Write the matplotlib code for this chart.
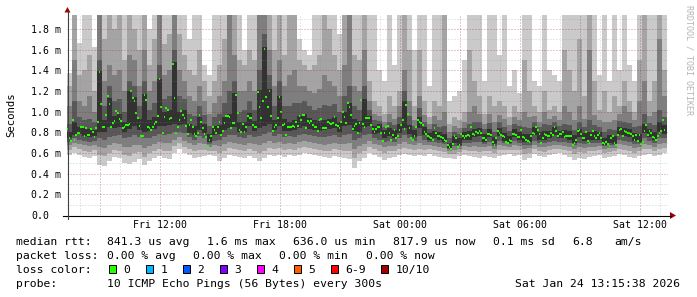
import numpy as np
import matplotlib
matplotlib.use("Agg")
import matplotlib.pyplot as plt
from matplotlib.lines import Line2D
from matplotlib.patches import Polygon, Rectangle

# time axis: hours counted from Fri 00:00
start_hour = 7.35
smoke_step = 0.25        # smoke read every 15 min
median_step = 1 / 12     # median read every 5 min

# median rtt in ms, one value per 5 min
median_ms = [
    .83, .74, .72, .92, .73, .77, .79, .79, .85, .85, .76, .84, .77, .77, .83, .80, .75, .84, .90, 1.38,
    1.07, .85, .85, .97, 1.15, 1.07, .85, .89, .91, 1.01, .99, .93, .91, .84, .85, .87, .87, .88, 1.20, 1.13,
    1.10, .99, .94, .86, .76, .76, 1.16, 1.11, .85, .84, .82, .85, .88, .90, .96, 1.32, 1.04, .79, .95, 1.03,
    1.02, .93, .94, 1.46, 1.13, .79, .85, .92, 1.01, .97, .94, .86, .78, .87, .92, .85, .78, .76, .79, .97,
    .90, .84, .78, .75, .67, .73, .76, .85, .82, .79,
    .85, .90, .77, .81, .89, .96, .96, .95, .84, .89, .89, 1.16, .99, .82, .80, .88, .80, .85, .96, .94,
    .94, .87, .85, .85, 1.19, 1.04, .94, 1.10, 1.61, 1.14, 1.04, 1.20, .96, .81, .85, .87, .94, 1.14, 1.00, .87,
    .88, .77, .85, .85, .85, .86, .85, .90, .86, .96, .92, .97, .97, .84, .91, .89, .91, .87, .85, .85,
    .81, .92, .93, .84, .84, .84, .90, .89, .88, .89, .95, .87, .86, .84, .90, 1.00, .95, .89, 1.08, 1.04,
    .97, .83, .86, .88, .79, .89, 1.11, .88, .85, .94,
    .94, .94, .87, .83, .80, .83, .85, .85, .79, .72, .79, .85, .86, .79, .73, .77, .82, .74, .76, .82,
    .87, .92, .83, 1.06, .98, .84, .74, .73, .76, .85, .92, .90, .89, .87, .80, .78, .76, .75, .74, .73,
    .84, .79, .76, .76, .75, .74, .73, .72, .68, .66, .64, .69, .76, .74, .66, .68, .78, .76, .74, .76,
    .77, .76, .85, .78, .77, .80, .79, .81, .79, .74, .74, .73, .78, .78, .77, .71, .68, .74, .81, .79,
    .77, .76, .75, .71, .70, .73, .72, .78, .78, .77,
    .75, .75, .82, .75, .74, .73, .72, .71, .76, .79, .78, .85, .82, .78, .70, .74, .78, .77, .76, .76,
    .79, .77, .85, .81, .76, .78, .78, .80, .75, .76, .76, .76, .76, .68, .70, .73, .81, .82, .78, .74,
    .74, .80, .72, .70, .77, .81, .76, .74, .77, .79, .74, .70, .69, .71, .69, .67, .74, .76, .70, .68,
    .77, .82, .83, .76, .81, .80, .79, .79, .78, .76, .73, .77, .72, .77, .69, .71, .81, .87, .77, .81,
    .79, .75, .74, .73, .76, .79, .81, .92, .82,
]

# the 10 sorted pings of each 15 min sample (ms), clipped ones set to 1.95
ping1 = [
    .58, .60, .58, .56, .55, .57, .48, .47, .52, .56, .55, .50, .49, .51, .54, .48, .52, .55, .57, .55,
    .54, .60, .64, .60, .58, .55, .56, .57, .58, .57,
    .52, .55, .58, .57, .56, .55, .57, .55, .52, .55, .58, .57, .58, .56, .58, .57, .58, .60, .59, .58,
    .57, .56, .55, .57, .56, .55, .54, .45, .52, .55,
    .60, .58, .56, .53, .55, .56, .58, .59, .58, .57, .58, .57, .59, .57, .56, .55, .55, .54, .57, .58,
    .57, .56, .55, .57, .56, .55, .57, .58, .59, .57,
    .58, .53, .55, .59, .57, .56, .58, .59, .60, .58, .56, .53, .55, .54, .56, .57, .58, .55, .56, .57,
    .59, .58, .56, .55, .57, .58, .59, .57, .58, .60,
]
ping2 = [
    .63, .66, .64, .62, .61, .63, .58, .57, .60, .63, .62, .58, .57, .60, .61, .56, .60, .62, .64, .62,
    .62, .67, .70, .66, .64, .62, .63, .63, .62, .62,
    .60, .62, .65, .64, .63, .62, .64, .62, .60, .62, .65, .64, .65, .63, .64, .63, .65, .66, .65, .64,
    .63, .62, .62, .64, .63, .62, .62, .55, .60, .62,
    .66, .64, .62, .60, .62, .62, .64, .65, .64, .63, .64, .63, .64, .63, .62, .61, .59, .59, .61, .63,
    .62, .62, .61, .62, .62, .60, .63, .63, .63, .63,
    .63, .59, .60, .64, .62, .61, .63, .64, .64, .63, .62, .59, .61, .60, .62, .62, .63, .60, .61, .62,
    .64, .63, .62, .60, .62, .64, .64, .62, .64, .65,
]
ping3 = [
    .68, .70, .69, .68, .67, .68, .66, .65, .68, .70, .69, .66, .66, .68, .68, .65, .67, .69, .71, .70,
    .70, .73, .75, .72, .70, .68, .70, .69, .66, .68,
    .67, .69, .71, .70, .69, .68, .70, .69, .68, .70, .72, .70, .71, .69, .70, .69, .71, .72, .71, .70,
    .69, .68, .69, .70, .69, .69, .70, .64, .67, .69,
    .72, .69, .68, .66, .67, .67, .69, .71, .69, .68, .70, .68, .68, .67, .66, .65, .62, .63, .64, .67,
    .66, .67, .66, .66, .67, .64, .68, .67, .66, .68,
    .67, .64, .65, .68, .66, .66, .67, .68, .68, .67, .66, .64, .66, .65, .66, .66, .67, .64, .65, .65,
    .69, .68, .67, .65, .66, .69, .68, .66, .69, .70,
]
ping4 = [
    .71, .74, .73, .72, .71, .72, .74, .73, .75, .76, .77, .74, .75, .77, .75, .74, .74, .76, .78, .77,
    .78, .80, .80, .79, .75, .73, .76, .74, .69, .72,
    .73, .75, .77, .77, .75, .74, .77, .75, .76, .78, .80, .76, .78, .75, .76, .75, .77, .78, .77, .76,
    .75, .75, .76, .77, .75, .77, .78, .73, .74, .77,
    .78, .74, .73, .71, .72, .71, .74, .77, .74, .72, .76, .73, .71, .71, .70, .69, .64, .67, .67, .70,
    .70, .71, .71, .69, .71, .67, .72, .70, .69, .72,
    .70, .68, .68, .72, .70, .70, .71, .72, .71, .71, .70, .68, .70, .69, .70, .70, .70, .67, .68, .68,
    .73, .72, .71, .69, .69, .74, .72, .70, .74, .74,
]
ping5 = [
    .74, .77, .78, .76, .75, .76, .80, .80, .85, .84, .85, .80, .83, .86, .82, .80, .81, .83, .86, .86,
    .87, .88, .87, .88, .79, .77, .82, .79, .71, .77,
    .78, .82, .84, .85, .80, .80, .86, .81, .84, .86, .88, .82, .86, .81, .81, .82, .84, .86, .83, .82,
    .81, .82, .83, .84, .80, .86, .87, .81, .80, .85,
    .86, .78, .79, .74, .76, .74, .79, .84, .78, .75, .84, .77, .73, .74, .73, .71, .65, .70, .68, .73,
    .73, .75, .76, .71, .75, .69, .76, .72, .70, .75,
    .73, .71, .71, .77, .73, .73, .74, .77, .74, .74, .73, .70, .75, .72, .73, .73, .73, .68, .70, .69,
    .77, .76, .75, .72, .71, .79, .75, .73, .80, .78,
]
ping6 = [
    .80, .90, .85, .84, .83, .82, 1.39, .92, 1.13, .96, .98, .90, 1.20, 1.14, .93, 1.17, .92, .95, 1.32, 1.00,
    1.02, 1.48, 1.00, 1.02, .88, .86, .95, .88, .78, .86,
    .87, .95, .98, 1.18, .90, .90, .99, .91, 1.21, 1.62, 1.22, .92, 1.15, .93, .90, .92, .96, .98, .94, .92,
    .91, .92, .93, .95, .90, 1.00, 1.08, .93, .91, 1.12,
    .96, .86, .88, .82, .84, .82, .88, 1.10, .87, .82, .95, .85, .79, .81, .80, .78, .70, .76, .74, .80,
    .81, .83, .84, .78, .83, .75, .84, .79, .76, .83,
    .80, .78, .78, .85, .80, .81, .81, .85, .81, .82, .81, .77, .83, .79, .80, .81, .80, .74, .77, .76,
    .85, .84, .83, .79, .78, .88, .83, .80, .90, .87,
]
ping7 = [
    .88, 1.10, .95, .92, .93, .90, 1.50, 1.05, 1.25, 1.10, 1.12, 1.00, 1.30, 1.25, 1.05, 1.30, 1.02, 1.08, 1.45, 1.12,
    1.15, 1.60, 1.15, 1.12, .98, .96, 1.05, .97, .86, .95,
    .98, 1.08, 1.20, 1.30, 1.00, 1.02, 1.10, 1.02, 1.40, 1.75, 1.35, 1.05, 1.30, 1.05, 1.05, 1.08, 1.08, 1.10, 1.05, 1.02,
    1.03, 1.06, 1.05, 1.07, 1.00, 1.15, 1.25, 1.05, 1.02, 1.25,
    1.02, .92, .91, .85, .90, .87, .95, 1.20, .96, .86, 1.03, .90, .83, .88, .85, .86, .74, .80, .78, .84,
    .88, .90, .90, .83, .89, .80, .90, .85, .81, .88,
    .86, .85, .84, .90, .85, .88, .87, .90, .86, .88, .87, .82, .90, .85, .92, .87, .85, .80, .83, .82,
    .91, .90, .89, .85, .86, .98, .89, .87, 1.02, .95,
]
ping8 = [
    1.05, 1.50, 1.10, 1.05, 1.15, 1.00, 1.95, 1.30, 1.45, 1.35, 1.40, 1.20, 1.55, 1.50, 1.25, 1.60, 1.20, 1.30, 1.95, 1.35,
    1.40, 1.95, 1.40, 1.30, 1.15, 1.10, 1.25, 1.10, .98, 1.08,
    1.15, 1.30, 1.95, 1.55, 1.20, 1.20, 1.30, 1.20, 1.95, 1.95, 1.60, 1.25, 1.50, 1.25, 1.35, 1.40, 1.25, 1.25, 1.20, 1.18,
    1.22, 1.35, 1.30, 1.25, 1.15, 1.45, 1.95, 1.25, 1.20, 1.60,
    1.10, .98, .96, .90, .98, .93, 1.05, 1.40, 1.10, .92, 1.15, .97, .88, .96, .92, 1.00, .80, .86, .84, .90,
    1.00, 1.05, .98, .88, .98, .90, .97, .93, .87, .95,
    .92, 1.00, .95, .96, .90, 1.00, .93, .96, .92, 1.05, 1.00, .92, 1.05, .93, 1.60, .97, .92, .90, .90, .92,
    .98, 1.05, 1.00, .92, 1.10, 1.30, .96, 1.00, 1.70, 1.15,
]
ping9 = [
    1.25, 1.95, 1.35, 1.40, 1.55, 1.20, 1.95, 1.70, 1.95, 1.80, 1.95, 1.50, 1.95, 1.80, 1.60, 1.95, 1.45, 1.70, 1.95, 1.65,
    1.75, 1.95, 1.75, 1.55, 1.40, 1.35, 1.60, 1.30, 1.15, 1.30,
    1.45, 1.70, 1.95, 1.95, 1.50, 1.45, 1.60, 1.50, 1.95, 1.95, 1.95, 1.60, 1.95, 1.55, 1.95, 1.95, 1.50, 1.45, 1.40, 1.45,
    1.55, 1.95, 1.80, 1.55, 1.40, 1.95, 1.95, 1.55, 1.50, 1.95,
    1.30, 1.10, 1.05, .98, 1.15, 1.05, 1.20, 1.95, 1.60, 1.05, 1.60, 1.10, .95, 1.10, 1.05, 1.95, .88, .95, .92, 1.00,
    1.60, 1.30, 1.15, .98, 1.15, 1.05, 1.10, 1.05, .95, 1.05,
    1.00, 1.50, 1.20, 1.05, 1.00, 1.20, 1.02, 1.05, 1.00, 1.60, 1.40, 1.20, 1.70, 1.15, 1.95, 1.30, 1.02, 1.20, 1.00, 1.15,
    1.05, 1.30, 1.10, 1.00, 1.50, 1.95, 1.10, 1.30, 1.95, 1.40,
]
ping10 = [
    1.37, 1.95, 1.66, 1.95, 1.95, 1.62, 1.95, 1.95, 1.95, 1.95, 1.95, 1.95, 1.95, 1.95, 1.95, 1.95, 1.80, 1.95, 1.95, 1.95,
    1.95, 1.95, 1.95, 1.95, 1.70, 1.95, 1.95, 1.45, 1.35, 1.95,
    1.95, 1.95, 1.95, 1.95, 1.95, 1.60, 1.95, 1.95, 1.95, 1.95, 1.95, 1.95, 1.95, 1.95, 1.95, 1.95, 1.70, 1.60, 1.55, 1.95,
    1.95, 1.95, 1.95, 1.95, 1.75, 1.95, 1.95, 1.95, 1.95, 1.95,
    1.95, 1.95, 1.40, 1.30, 1.95, 1.45, 1.95, 1.95, 1.95, 1.60, 1.95, 1.95, 1.25, 1.95, 1.95, 1.95, 1.10, 1.15, 1.20, 1.50,
    1.95, 1.95, 1.95, 1.30, 1.95, 1.95, 1.55, 1.95, 1.25, 1.40,
    1.18, 1.95, 1.95, 1.30, 1.25, 1.95, 1.40, 1.35, 1.30, 1.95, 1.95, 1.95, 1.95, 1.95, 1.95, 1.95, 1.35, 1.95, 1.30, 1.95,
    1.40, 1.95, 1.45, 1.30, 1.95, 1.95, 1.95, 1.95, 1.95, 1.95,
]

y_ticks = [0.0, 0.2, 0.4, 0.6, 0.8, 1.0, 1.2, 1.4, 1.6, 1.8]
x_ticks = [12, 18, 24, 30, 36]
x_labels = ["Fri 12:00", "Fri 18:00", "Sat 00:00", "Sat 06:00", "Sat 12:00"]

loss_labels = ["0", "1", "2", "3", "4", "5", "6-9", "10/10"]
loss_colors = ["#26ff00", "#00b8ff", "#0059ff", "#7e00ff", "#ff00ff", "#ff5e00", "#ff0000", "#a10000"]

W, H = 697, 297
MONO = "DejaVu Sans Mono"


def fx(px):
    return px / W


def fy(py):
    return 1 - py / H


fig = plt.figure(figsize=(W / 100, H / 100), dpi=100)
fig.patch.set_facecolor("white")
ax = fig.add_axes([fx(67), fy(215), 601 / W, 200 / H])
ax.set_xlim(start_hour, start_hour + 601 / 20)
ax.set_ylim(0, 200 / 103.4)
for s in ax.spines.values():
    s.set_visible(False)
ax.set_xticks([])
ax.set_yticks([])

ns = len(ping1)
ts = start_hour + smoke_step * np.arange(ns + 1)


def ext(a):
    return list(a) + [a[-1]]


# smoke: pairs of pings from outside to inside, light to dark
pairs = [(ping1, ping10), (ping2, ping9), (ping3, ping8), (ping4, ping7), (ping5, ping6)]
greys = ["#cacaca", "#a4a4a4", "#7e7e7e", "#585858", "#323232"]
for (lo, hi), c in zip(pairs, greys):
    ax.fill_between(ts, ext(lo), ext(hi), step="post", color=c, lw=0, zorder=2)

# median ticks coloured by loss (all 0 here)
nm = len(median_ms)
tm = start_hour + median_step * np.arange(nm + 1)
ax.hlines(median_ms, tm[:-1], tm[1:], colors=loss_colors[0], lw=1.5, zorder=4)

# grid on top of data like rrdtool
for h in range(8, 38):
    if h % 3 == 0:
        ax.axvline(h, color="#821e1e", alpha=0.45, lw=0.72, ls=(0, (1, 2)), zorder=5)
    else:
        ax.axvline(h, color="#8c8c8c", alpha=0.4, lw=0.72, ls=(0, (1, 2)), zorder=5)
for v in np.arange(0.1, 1.95, 0.1):
    if round(v * 10) % 2 == 0:
        ax.axhline(v, color="#821e1e", alpha=0.45, lw=0.72, ls=(0, (1, 2)), zorder=5)
    else:
        ax.axhline(v, color="#8c8c8c", alpha=0.4, lw=0.72, ls=(0, (1, 2)), zorder=5)

# axes with arrows
fig.add_artist(Line2D([fx(63), fx(671)], [fy(215.5), fy(215.5)], color="black", lw=0.8))
fig.add_artist(Line2D([fx(67.5), fx(67.5)], [fy(219), fy(11)], color="#404040", lw=0.8))
fig.add_artist(Polygon([[fx(670), fy(212)], [fx(670), fy(219)], [fx(676), fy(215.5)]],
                       closed=True, color="#a00000", lw=0))
fig.add_artist(Polygon([[fx(64.5), fy(12.5)], [fx(70.5), fy(12.5)], [fx(67.5), fy(7)]],
                       closed=True, color="#a00000", lw=0))

# tick labels
for v in y_ticks:
    lab = "0.0" if v == 0 else f"{v:.1f} m"
    ax.text((31 - 67) / 601, v, lab, transform=ax.get_yaxis_transform(),
            ha="left", va="center_baseline", fontsize=7.1, family=MONO)
for h, lab in zip(x_ticks, x_labels):
    ax.text(h, (215 - 228) / 200, lab, transform=ax.get_xaxis_transform(),
            ha="center", va="baseline", fontsize=7.1, family=MONO)

fig.text(fx(11), fy(115), "Seconds", rotation=90, ha="center", va="center",
         fontsize=7.7, family=MONO)
fig.text(fx(689), fy(60), "RRDTOOL / TOBI OETIKER", rotation=270, ha="center", va="center",
         fontsize=6.0, family=MONO, color="#b4b4b4")

# legend block
FS = 8.2
line1 = [(16, "median rtt:"), (107.3, "841.3 us avg"), (207.3, "1.6 ms max"), (292.7, "636.0 us min"),
         (393.3, "817.9 us now"), (493.3, "0.1 ms sd"), (572.3, "6.8"), (614, "am/s")]
line2 = [(16, "packet loss:"), (107.3, "0.00 % avg"), (193.3, "0.00 % max"), (279, "0.00 % min"),
         (365.7, "0.00 % now")]
for x, s in line1:
    fig.text(fx(x), fy(245.3), s, fontsize=FS, family=MONO, va="baseline")
for x, s in line2:
    fig.text(fx(x), fy(259.3), s, fontsize=FS, family=MONO, va="baseline")

fig.text(fx(16), fy(273.3), "loss color:", fontsize=FS, family=MONO, va="baseline")
pos = 108.7
for lab, c in zip(loss_labels, loss_colors):
    fig.add_artist(Rectangle((fx(pos), fy(273)), 7 / W, 8 / H, facecolor=c,
                             edgecolor="black", lw=0.7))
    fig.text(fx(pos + 14.6), fy(273.3), lab, fontsize=FS, family=MONO, va="baseline")
    pos += 30.1 + len(lab) * 6.87

fig.text(fx(16), fy(287.3), "probe:", fontsize=FS, family=MONO, va="baseline")
fig.text(fx(107.3), fy(287.3), "10 ICMP Echo Pings (56 Bytes) every 300s", fontsize=FS,
         family=MONO, va="baseline")
fig.text(fx(680), fy(287.3), "Sat Jan 24 13:15:38 2026", fontsize=FS, family=MONO,
         va="baseline", ha="right")

fig.savefig("out.png", dpi=100, facecolor="white")
